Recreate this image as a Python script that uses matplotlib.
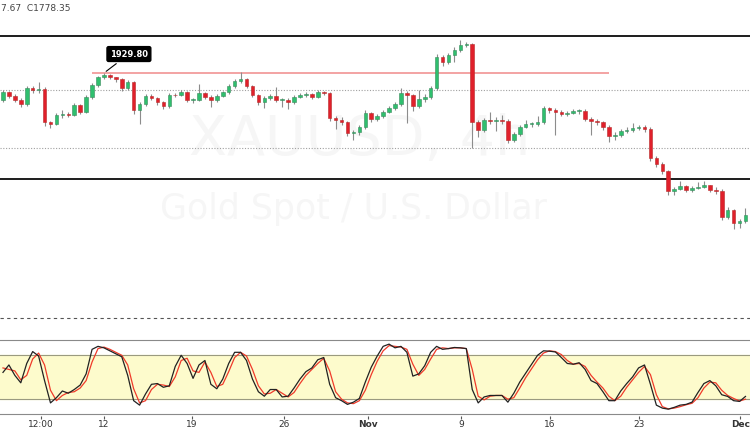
import matplotlib.pyplot as plt
import numpy as np

# XAUUSD candles (each bar ~ 8h)
first_open = 1901.0
closes = [1909.6, 1905.0, 1901.1, 1896.8, 1913.8, 1911.7, 1912.7, 1877.7, 1875.5, 1885.1,
          1886.2, 1885.1, 1895.8, 1888.3, 1904.3, 1917.0, 1925.5, 1927.7, 1925.5, 1923.4,
          1913.8, 1920.2, 1890.4, 1896.8, 1905.3, 1903.2, 1899.0, 1894.7, 1906.4, 1906.0,
          1909.6, 1901.1, 1901.1, 1908.5, 1904.3, 1901.1, 1905.3, 1909.6, 1916.0, 1921.3,
          1923.4, 1916.0, 1906.4, 1899.0, 1903.2, 1905.3, 1901.1, 1901.1, 1899.0, 1904.3,
          1906.4, 1907.5, 1904.3, 1909.6, 1908.5, 1881.9, 1879.8, 1877.7, 1866.0, 1867.0,
          1872.3, 1887.2, 1881.0, 1884.0, 1888.3, 1892.6, 1896.8, 1908.5, 1906.4, 1894.7,
          1902.0, 1904.3, 1913.8, 1946.8, 1941.5, 1948.9, 1954.3, 1959.6, 1960.7, 1877.7,
          1869.0, 1879.8, 1878.7, 1879.8, 1878.7, 1858.5, 1865.0, 1872.3, 1875.5, 1875.5,
          1877.7, 1892.6, 1890.4, 1888.3, 1886.2, 1887.2, 1889.4, 1889.4, 1881.0, 1878.7,
          1877.7, 1872.3, 1862.8, 1863.8, 1868.1, 1869.2, 1871.3, 1872.3, 1870.2, 1839.4,
          1833.0, 1825.5, 1804.3, 1806.5, 1809.6, 1805.3, 1807.5, 1808.5, 1810.7, 1805.3,
          1804.3, 1776.6, 1784.0, 1770.2, 1772.3, 1778.35]
highs = [1912, 1911, 1907, 1903, 1916, 1916, 1920, 1915, 1879, 1887,
         1890, 1888, 1898, 1897, 1906, 1919, 1927, 1929.8, 1928.5, 1926,
         1924, 1922, 1921, 1899, 1907, 1907, 1904, 1900, 1909, 1909,
         1912, 1911, 1903, 1918, 1910, 1906, 1907, 1911, 1918, 1923,
         1931, 1924, 1917, 1908, 1905, 1907, 1915, 1903, 1903, 1906,
         1909, 1910, 1909, 1912, 1911, 1910, 1884, 1883, 1879, 1869,
         1874, 1890, 1888, 1886, 1890, 1895, 1899, 1914, 1911, 1907,
         1912, 1907, 1916, 1950, 1949, 1951, 1957, 1965.4, 1963, 1962,
         1880, 1882, 1888, 1883, 1885, 1881, 1867, 1874, 1880, 1878,
         1884, 1895, 1894, 1893, 1890, 1889, 1892, 1892, 1891, 1883,
         1881, 1879, 1874, 1867, 1870, 1872, 1877, 1875, 1874, 1872,
         1841, 1835, 1827, 1809, 1815, 1811, 1810, 1814, 1815, 1811,
         1809, 1806, 1787, 1785, 1775, 1786]
lows = [1899, 1903, 1899, 1894, 1895, 1909, 1909, 1873, 1871, 1874,
        1882, 1883, 1884, 1886, 1887, 1902, 1915, 1923, 1923, 1920,
        1911, 1912, 1886, 1876, 1895, 1901, 1896, 1891, 1893, 1904,
        1905, 1899, 1898, 1900, 1902, 1894, 1899, 1904, 1908, 1914,
        1919, 1914, 1904, 1896, 1893, 1901, 1899, 1894, 1891, 1897,
        1903, 1904, 1902, 1903, 1906, 1879, 1870, 1874, 1863, 1859,
        1864, 1870, 1878, 1879, 1882, 1887, 1890, 1895, 1877, 1889,
        1893, 1899, 1902, 1912, 1937, 1939, 1942, 1952, 1957, 1850,
        1862, 1867, 1876, 1868, 1876, 1855, 1856, 1863, 1871, 1872,
        1873, 1876, 1887, 1864, 1884, 1884, 1886, 1886, 1879, 1864,
        1875, 1869, 1856, 1859, 1862, 1866, 1867, 1869, 1867, 1836,
        1830, 1822, 1800, 1800, 1805, 1803, 1803, 1806, 1807, 1803,
        1801, 1773, 1775, 1764, 1765, 1770]

# stochastic %K (black) and %D (red)
stoch_k = [56, 66, 52, 42, 68, 84, 78, 45, 15, 22, 31, 28, 33, 39, 54, 87, 91, 89, 85, 81,
           77, 52, 18, 12, 27, 40, 41, 36, 38, 64, 79, 68, 48, 66, 72, 40, 34, 47, 68, 83,
           83, 72, 47, 30, 24, 33, 33, 23, 24, 35, 47, 57, 62, 73, 76, 40, 22, 18, 13, 16,
           21, 43, 63, 78, 91, 94, 89, 91, 83, 51, 54, 65, 83, 91, 87, 88, 89.5, 89, 88, 33,
           15, 23, 25, 25, 25, 16, 28, 43, 55, 67, 79, 85, 84.5, 83.5, 76, 68, 67, 69, 60, 45,
           41, 30, 18, 18, 31, 41, 50, 62, 66, 40, 12, 8, 6.6, 9, 12, 13, 16, 29, 41, 45,
           38, 26, 23.7, 18, 17, 23.7]
stoch_d = [62, 60, 58, 46, 52, 74, 82, 66, 32, 18, 25, 29, 30, 35, 45, 70, 88, 90, 87, 83,
           79, 66, 34, 15, 18, 33, 40, 39, 37, 50, 72, 75, 58, 56, 70, 56, 37, 40, 57, 76,
           83, 78, 60, 38, 27, 28, 33, 28, 23, 29, 41, 52, 60, 68, 75, 58, 30, 20, 15, 14,
           18, 32, 53, 71, 85, 92, 91, 90, 87, 67, 52, 60, 74, 87, 89, 88, 89, 89, 88, 60,
           24, 19, 24, 25, 25, 20, 22, 35, 49, 61, 73, 82, 85, 84, 80, 72, 67, 68, 64, 52,
           43, 35, 24, 18, 24, 36, 46, 56, 64, 53, 26, 10, 7, 8, 10, 12.5, 14.5, 22, 35, 43,
           42, 32, 25, 21, 17.5, 20]

tick_pos = [6.4, 17.0, 31.8, 47.3, 61.4, 77.1, 92.1, 107.1, 124.1]
tick_labels = ['12:00', '12', '19', '26', 'Nov', '9', '16', '23', 'Dec']

resistance = 1969.2
support = 1817.0
high_mark = 1929.80
dotted_levels = [1911.7, 1850.0]
dashed_level = 1669.2

closes = np.array(closes)
opens = np.concatenate([[first_open], closes[:-1]])
highs = np.array(highs)
lows = np.array(lows)
x = np.arange(len(closes))
up = closes >= opens

fig = plt.figure(figsize=(7.5, 4.3), dpi=100)
ax = fig.add_axes([0, 105 / 430, 1, 325 / 430])
ax2 = fig.add_axes([0, 14 / 430, 1, 91 / 430], sharex=ax)
for a in (ax, ax2):
    for s in a.spines.values():
        s.set_visible(False)
    a.set_yticks([])

xl = (-0.5, 125.76)
ax.set_xlim(*xl)
ax.set_ylim(1661.7, 2007.5)

# watermark
ax.text(60, 1859, 'XAUUSD, 4h', fontsize=40, color='#f6f6f6', ha='center', va='center', zorder=0)
ax.text(59, 1785, 'Gold Spot / U.S. Dollar', fontsize=25, color='#f6f6f6', ha='center', va='center', zorder=0)

# levels
ax.axhline(resistance, color='#1c1c1c', lw=1.4, zorder=2)
ax.axhline(support, color='#1c1c1c', lw=1.4, zorder=2)
for lv in dotted_levels:
    ax.axhline(lv, color='#a0a0a0', lw=0.8, ls=(0, (1, 1.5)), zorder=1)
ax.axhline(dashed_level, color='#555555', lw=0.8, ls=(0, (3, 3)), zorder=1)
ax.hlines(high_mark, 15.0, 102.0, color='#f08a8a', lw=1.1, zorder=1)

# candles
ax.vlines(x, lows, highs, color='#8c8c8c', lw=0.8, zorder=3)
body_lo = np.minimum(opens, closes)
body_h = np.maximum(np.abs(closes - opens), 0.6)
ax.bar(x[up], body_h[up], bottom=body_lo[up], width=0.6, color='#2fbf6e',
       edgecolor='#3a8a5c', lw=0.4, zorder=4)
ax.bar(x[~up], body_h[~up], bottom=body_lo[~up], width=0.6, color='#e0202b',
       edgecolor='#b82a2a', lw=0.4, zorder=4)

ax.annotate('1929.80', xy=(17, high_mark), xytext=(21.2, 1950.0),
            fontsize=6, color='white', fontweight='bold', ha='center', va='center',
            bbox=dict(boxstyle='round,pad=0.35,rounding_size=0.2', fc='black', ec='black'),
            arrowprops=dict(arrowstyle='-', color='black', lw=0.8), zorder=6)

fig.text(0.001, 0.98, '7.67  C1778.35', fontsize=6.5, color='#444444', ha='left', va='center')

# stochastic pane
ax2.set_ylim(-2.6, 119.7)
ax2.axhspan(20, 80, color='#fdfbcc', zorder=0)
for lv in (20, 80):
    ax2.axhline(lv, color='#9a9a80', lw=0.8, zorder=1)
for lv in (0, 100):
    ax2.axhline(lv, color='#8a8a8a', lw=0.8, zorder=1)
ax2.plot(x, stoch_d, color='#f03a2a', lw=0.9, zorder=3)
ax2.plot(x, stoch_k, color='#222222', lw=0.9, zorder=4)

ax2.set_xticks(tick_pos)
ax2.set_xticklabels(tick_labels)
ax2.tick_params(axis='x', labelsize=6.5, colors='#555555', length=2, pad=1)
for lbl in ax2.get_xticklabels():
    lbl.set_color('#333333')
    if lbl.get_text() in ('Nov', 'Dec'):
        lbl.set_fontweight('bold')
ax.tick_params(axis='x', bottom=False, labelbottom=False)
ax2.set_xlim(*xl)

fig.savefig('out.png', dpi=100)
